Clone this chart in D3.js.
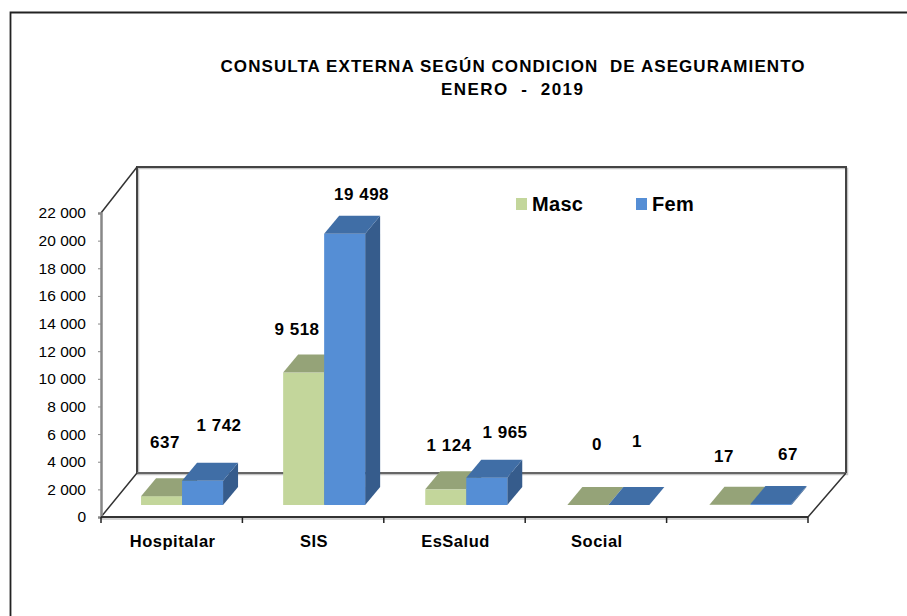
<!DOCTYPE html>
<html>
<head>
<meta charset="utf-8">
<script src="https://cdn.jsdelivr.net/npm/d3@7"></script>
<style>
  html, body { margin: 0; padding: 0; background: #fff; }
  svg { display: block; }
  text { font-family: "Liberation Sans", Arial, sans-serif; fill: #000; }
</style>
</head>
<body>
<svg id="chart" width="907" height="616"></svg>
<script>
const categories = ["Hospitalar", "SIS", "EsSalud", "Social", ""];
const masc = [637, 9518, 1124, 0, 17];
const fem = [1742, 19498, 1965, 1, 67];
const mascLabels = ["637", "9 518", "1 124", "0", "17"];
const femLabels = ["1 742", "19 498", "1 965", "1", "67"];
const yTicks = d3.range(0, 22001, 2000);
const titleLines = ["CONSULTA EXTERNA SEGÚN CONDICION  DE ASEGURAMIENTO", "ENERO  -  2019"];

const colors = {
  Masc: { front: "#c3d69b", top: "#95a378", side: "#7f8c63" },
  Fem: { front: "#558ed5", top: "#406ea6", side: "#365c8c" }
};

const svg = d3.select("#chart");

// marco de la imagen
svg.append("path")
  .attr("d", "M10.5,616V12.5H907")
  .attr("fill", "none").attr("stroke", "#222").attr("stroke-width", 1.8);

// titulo
svg.append("g").selectAll("text").data(titleLines).join("text")
  .attr("x", (d, i) => i === 0 ? 512.5 : 512)
  .attr("y", (d, i) => 72 + i * 23)
  .attr("text-anchor", "middle")
  .attr("font-size", 17)
  .attr("font-weight", "bold")
  .attr("textLength", (d, i) => i === 0 ? 584 : 142)
  .attr("lengthAdjust", "spacing")
  .style("white-space", "pre")
  .text(d => d);

// escalas
const x = d3.scaleBand().domain(d3.range(categories.length)).range([101, 808]);
const y = d3.scaleLinear().domain([0, 22000]).range([517, 213]);
// las barras van sobre el piso, un poco adentro del borde frontal
const xBar = d3.scaleBand().domain(d3.range(categories.length)).range([111, 821.5]);
const yBar = d3.scaleLinear().domain([0, 22000]).range([505, 199]);
const depth = { x: 36, y: -44 };      // profundidad del piso
const barDepth = { x: 15, y: -18 };   // profundidad de cada barra
const barW = 41;

// paredes 3D
const wall = svg.append("g").attr("fill", "none");
const floorLeft = 101, floorRight = 808, floorY = y(0);
const backLeft = floorLeft + depth.x, backRight = floorRight + depth.x + 2, backBottom = floorY + depth.y;
const backTop = y(22000) + depth.y - 2;

// sombra gris clara debajo de las lineas
wall.append("path")
  .attr("d", `M${backLeft + 1.5},${backBottom}V${backTop + 1.5}H${backRight + 1.5}V${backBottom + 1.5}H${backLeft}`)
  .attr("stroke", "#c4c4c4").attr("stroke-width", 1.5);
wall.append("path")
  .attr("d", `M${backLeft},${backBottom}V${backTop}H${backRight}V${backBottom}`)
  .attr("stroke", "#444").attr("stroke-width", 2);
wall.append("path")
  .attr("d", `M${backLeft},${backBottom}H${backRight}`)
  .attr("stroke", "#666").attr("stroke-width", 2);
wall.append("path")
  .attr("d", `M${floorLeft},${y(22000)}L${backLeft},${backTop}`)
  .attr("stroke", "#333").attr("stroke-width", 1.5);
wall.append("path")
  .attr("d", `M${floorLeft},${floorY}L${backLeft},${backBottom}M${floorRight},${floorY}L${backRight},${backBottom}`)
  .attr("stroke", "#333").attr("stroke-width", 1.5);

// eje Y
const yAxis = svg.append("g")
  .attr("transform", `translate(${floorLeft},0)`)
  .call(d3.axisLeft(y).tickValues(yTicks).tickSize(3).tickPadding(12)
    .tickFormat(d => d3.format(",")(d).replace(",", " ")));
yAxis.select(".domain").attr("stroke", "#888").attr("stroke-width", 2.5);
yAxis.selectAll(".tick line").attr("stroke", "#888");
yAxis.selectAll("text").attr("font-size", 15.5).style("font-family", '"Liberation Sans", Arial, sans-serif');

// eje X
const xAxis = svg.append("g").attr("transform", `translate(0,${floorY})`);
xAxis.append("line")
  .attr("x1", floorLeft).attr("x2", floorRight).attr("y1", 2).attr("y2", 2)
  .attr("stroke", "#c4c4c4").attr("stroke-width", 1.5);
xAxis.append("line")
  .attr("x1", floorLeft).attr("x2", floorRight)
  .attr("stroke", "#333").attr("stroke-width", 2);
xAxis.selectAll(".tk").data(d3.range(categories.length + 1)).join("line")
  .attr("class", "tk")
  .attr("x1", i => floorLeft + i * x.bandwidth())
  .attr("x2", i => floorLeft + i * x.bandwidth())
  .attr("y1", 0).attr("y2", 6)
  .attr("stroke", "#222").attr("stroke-width", 1.5);
xAxis.selectAll(".cat").data(categories).join("text")
  .attr("class", "cat")
  .attr("x", (d, i) => x(i) + x.bandwidth() / 2 + 1)
  .attr("y", 30)
  .attr("text-anchor", "middle")
  .attr("font-size", 16.5)
  .attr("font-weight", "bold")
  .attr("letter-spacing", 0.5)
  .text(d => d);

// barras 3D
function drawBar(g, x0, value, c) {
  const bottom = yBar(0);
  const top = yBar(value);
  const dx = barDepth.x, dy = barDepth.y;
  g.append("path")
    .attr("d", `M${x0 + barW},${bottom}L${x0 + barW + dx},${bottom + dy}V${top + dy}L${x0 + barW},${top}Z`)
    .attr("fill", c.side);
  g.append("rect")
    .attr("x", x0).attr("y", top)
    .attr("width", barW).attr("height", bottom - top)
    .attr("fill", c.front);
  g.append("path")
    .attr("d", `M${x0},${top}L${x0 + dx},${top + dy}H${x0 + barW + dx}L${x0 + barW},${top}Z`)
    .attr("fill", c.top);
}

const center = i => xBar(i) + xBar.bandwidth() / 2;
const bars = svg.append("g");
categories.forEach((cat, i) => {
  drawBar(bars.append("g"), center(i) - barW, masc[i], colors.Masc);
  drawBar(bars.append("g"), center(i), fem[i], colors.Fem);
});

// etiquetas de datos, desplazadas a mano desde la punta de cada barra
const mascLabelDx = [3.5, -6.6, 3.3, 9.2, -5.9];
const mascLabelDy = [-48, -38, -38, -55, -43];
const femLabelDx = [16.5, 16.9, 18.3, 8.2, 17.1];
const femLabelDy = [-50, -34, -40, -58, -44];

function drawLabels(labels, values, side, dxs, dys) {
  svg.append("g").selectAll("text").data(labels).join("text")
    .attr("x", (d, i) => center(i) + side * barW / 2 + dxs[i])
    .attr("y", (d, i) => yBar(values[i]) + dys[i])
    .attr("text-anchor", "middle")
    .attr("font-size", 17)
    .attr("font-weight", "bold")
    .attr("letter-spacing", 0.5)
    .text(d => d);
}
drawLabels(mascLabels, masc, -1, mascLabelDx, mascLabelDy);
drawLabels(femLabels, fem, 1, femLabelDx, femLabelDy);

// leyenda
const legend = svg.append("g").selectAll("g")
  .data([["Masc", colors.Masc.front, 516], ["Fem", colors.Fem.front, 636]])
  .join("g").attr("transform", d => `translate(${d[2]},198)`);
legend.append("rect").attr("width", 11).attr("height", 12).attr("fill", d => d[1]);
legend.append("text")
  .attr("x", 16).attr("y", 13)
  .attr("font-size", 20).attr("font-weight", "bold")
  .attr("letter-spacing", 0.3)
  .text(d => d[0]);
</script>
</body>
</html>
